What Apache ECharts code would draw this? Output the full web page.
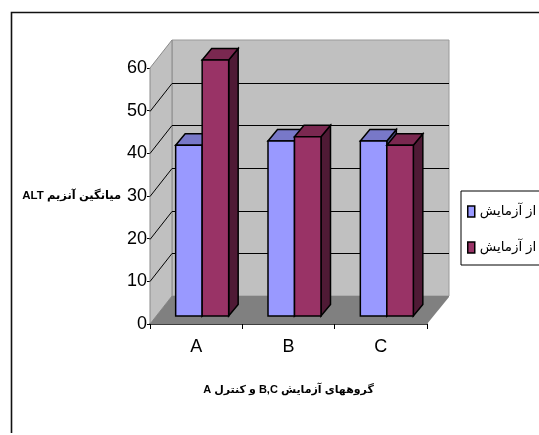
<!DOCTYPE html>
<html dir="rtl">
<head>
<meta charset="utf-8">
<style>
  html, body { margin: 0; padding: 0; background: #fff; overflow: hidden; }
  #chart { position: absolute; left: 0; top: 0; width: 539px; height: 435px; }
</style>
<script src="https://cdn.jsdelivr.net/npm/echarts@6/dist/echarts.min.js"></script>
</head>
<body>
<div id="chart"></div>
<script>
const categories = ['A', 'B', 'C']
const beforeValues = [40, 41, 41]
const afterValues = [60, 42, 40]
const beforeName = 'قبل از آزمایش'
const afterName = 'بعد از آزمایش'
const yTicks = [0, 10, 20, 30, 40, 50, 60]
const yAxisTitle = 'میانگین آنزیم ALT'
const xAxisTitle = 'گروههای آزمایش B,C و کنترل A'

const fontBase = '"Liberation Sans", "DejaVu Sans"'

// oblique depth of the fake 3d box
const wallDx = 22
const wallDy = -28
const barShiftX = 6
const barShiftY = -8
const barDepthX = 9.5
const barDepthY = -11.5
const barWidth = 26.5

function face(points, fill) {
  return {
    type: 'polygon',
    shape: { points: points },
    style: { fill: fill, stroke: '#000', lineWidth: 1.5 }
  }
}

function renderWalls(params, api) {
  const c = params.coordSys
  const left = c.x, right = c.x + c.width
  const top = api.coord([0, yTicks[yTicks.length - 1]])[1]
  const bottom = api.coord([0, 0])[1]
  const children = [
    { type: 'polygon', shape: { points: [[left + wallDx, top + wallDy], [right + wallDx, top + wallDy], [right + wallDx, bottom + wallDy], [left + wallDx, bottom + wallDy]] }, style: { fill: '#C0C0C0', stroke: '#9a9a9a', lineWidth: 1 } },
    { type: 'polygon', shape: { points: [[left, top], [left + wallDx, top + wallDy], [left + wallDx, bottom + wallDy], [left, bottom]] }, style: { fill: '#C0C0C0', stroke: '#8a8a8a', lineWidth: 1 } },
    { type: 'polygon', shape: { points: [[left, bottom], [left + wallDx, bottom + wallDy], [right + wallDx, bottom + wallDy], [right + wallDx, bottom + wallDy + 1], [right, bottom]] }, style: { fill: '#808080' } }
  ]
  yTicks.slice(1, -1).forEach(function (t) {
    const y = Math.round(api.coord([0, t])[1]) + 0.5
    children.push({ type: 'polyline', shape: { points: [[left, y], [left + wallDx, y + wallDy], [right + wallDx, y + wallDy]] }, style: { fill: 'none', stroke: '#000', lineWidth: 1 } })
  })
  return { type: 'group', children: children }
}

function barRenderer(side, colors) {
  return function (params, api) {
    const cat = api.value(0)
    const base = api.coord([cat, 0])
    const head = api.coord([cat, api.value(1)])
    const x0 = base[0] + barShiftX + (side < 0 ? -barWidth : 0)
    const x1 = x0 + barWidth
    const yb = base[1] + barShiftY
    const yt = head[1] + barShiftY
    return {
      type: 'group',
      children: [
        face([[x1, yt], [x1 + barDepthX, yt + barDepthY], [x1 + barDepthX, yb + barDepthY], [x1, yb]], colors.side),
        face([[x0, yt], [x0 + barDepthX, yt + barDepthY], [x1 + barDepthX, yt + barDepthY], [x1, yt]], colors.top),
        face([[x0, yt], [x1, yt], [x1, yb], [x0, yb]], colors.front)
      ]
    }
  }
}

const chart = echarts.init(document.getElementById('chart'), null, { renderer: 'canvas' })

chart.setOption({
  animation: false,
  backgroundColor: '#fff',
  graphic: [{
    type: 'polyline',
    silent: true,
    shape: { points: [[11.5, 433], [11.5, 12.5], [539, 12.5]] },
    style: { fill: 'none', stroke: '#111', lineWidth: 1.6 }
  }],
  grid: { left: 150, right: 112, top: 68, bottom: 111 },
  legend: {
    left: 461,
    top: 191,
    orient: 'vertical',
    padding: [13, 6, 10, 6],
    itemGap: 21,
    itemWidth: 7,
    itemHeight: 11,
    backgroundColor: '#fff',
    borderColor: '#000',
    borderWidth: 1,
    icon: 'rect',
    itemStyle: { borderColor: '#000', borderWidth: 1.5 },
    textStyle: { fontFamily: fontBase, fontSize: 13.5, color: '#000', lineHeight: 15 },
    data: [beforeName, afterName]
  },
  xAxis: {
    type: 'category',
    data: categories,
    name: xAxisTitle,
    nameLocation: 'middle',
    nameGap: 60,
    nameTextStyle: { fontFamily: fontBase, fontWeight: 'bold', fontSize: 11, color: '#000' },
    axisLine: { lineStyle: { color: '#000', width: 1.5 } },
    axisTick: { show: true, alignWithLabel: false, length: 5, lineStyle: { color: '#000' } },
    axisLabel: { fontFamily: fontBase, fontSize: 18, color: '#000', margin: 14 }
  },
  yAxis: {
    type: 'value',
    min: 0,
    max: 60,
    interval: 10,
    name: yAxisTitle,
    nameLocation: 'middle',
    nameRotate: 0,
    nameGap: 20,
    nameTextStyle: { fontFamily: fontBase, fontWeight: 'bold', fontSize: 11.5, color: '#000', align: 'right', padding: [3, 0, 0, 0] },
    axisLine: { show: true, lineStyle: { color: '#8a8a8a', width: 1 } },
    axisTick: { show: true, length: 3, lineStyle: { color: '#000' } },
    axisLabel: { fontFamily: fontBase, fontSize: 18, color: '#000', margin: 3 },
    splitLine: { show: false }
  },
  series: [
    {
      type: 'custom',
      silent: true,
      z: 1,
      renderItem: renderWalls,
      encode: { x: 0, y: 1 },
      data: [[0, 0]]
    },
    {
      type: 'custom',
      name: beforeName,
      z: 2,
      itemStyle: { color: '#9999FF' },
      renderItem: barRenderer(-1, { front: '#9999FF', top: '#7878C8', side: '#4A4A7D' }),
      encode: { x: 0, y: 1 },
      data: beforeValues.map(function (v, i) { return [i, v] })
    },
    {
      type: 'custom',
      name: afterName,
      z: 3,
      itemStyle: { color: '#993366' },
      renderItem: barRenderer(1, { front: '#993366', top: '#7A2850', side: '#4F1A35' }),
      encode: { x: 0, y: 1 },
      data: afterValues.map(function (v, i) { return [i, v] })
    }
  ]
})
</script>
</body>
</html>
